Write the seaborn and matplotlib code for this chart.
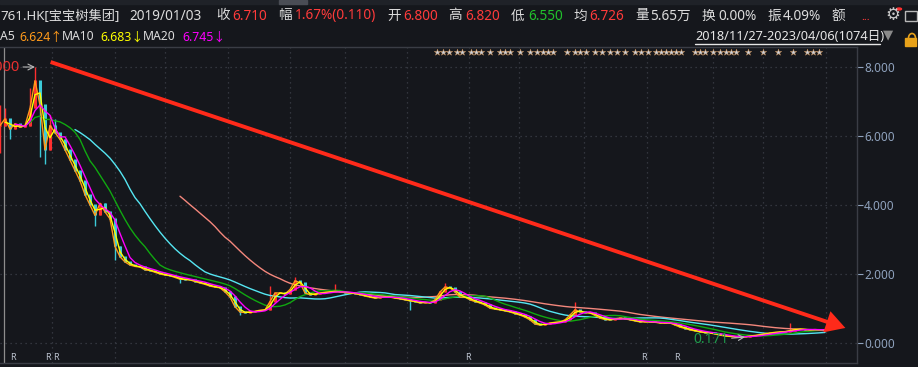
import numpy as np
import pandas as pd
import matplotlib
matplotlib.use("Agg")
import matplotlib.pyplot as plt
import matplotlib.patches as patches
import seaborn as sns

# 1761.HK closes, one point per ~6.5 trading days, 2018/11/27 - 2023/04/06
close = [6.3, 6.5, 6.2, 6.35, 6.25, 6.3, 6.8, 7.6, 6.9, 5.6,
         6.3, 6.1, 5.9, 5.6, 5.3, 5.0, 4.7, 4.3, 4.0, 3.7,
         4.05, 3.8, 3.6, 2.8, 2.5, 2.35, 2.26, 2.22, 2.2, 2.12,
         2.1, 2.05, 2.0, 1.97, 1.95, 1.9, 1.85, 1.84, 1.83, 1.78,
         1.74, 1.7, 1.65, 1.62, 1.6, 1.48, 1.33, 1.05, 0.9, 0.88,
         0.9, 0.92, 0.95, 0.96, 1.2, 1.45, 1.45, 1.42, 1.55, 1.8,
         1.75, 1.45, 1.4, 1.42, 1.45, 1.47, 1.48, 1.5, 1.48, 1.46,
         1.45, 1.43, 1.4, 1.36, 1.33, 1.3, 1.33, 1.34, 1.33, 1.3,
         1.28, 1.25, 1.22, 1.2, 1.16, 1.18, 1.16, 1.25, 1.48, 1.62,
         1.6, 1.48, 1.33, 1.33, 1.25, 1.2, 1.16, 1.1, 1.01, 0.98,
         0.96, 0.93, 0.9, 0.85, 0.81, 0.75, 0.67, 0.55, 0.52, 0.55,
         0.58, 0.6, 0.61, 0.67, 0.81, 0.96, 0.9, 0.88, 0.87, 0.8,
         0.72, 0.68, 0.67, 0.7, 0.72, 0.7, 0.67, 0.64, 0.61, 0.62,
         0.61, 0.6, 0.58, 0.58, 0.58, 0.52, 0.46, 0.42, 0.38, 0.35,
         0.32, 0.3, 0.29, 0.26, 0.23, 0.2, 0.19, 0.18, 0.18, 0.18,
         0.2, 0.22, 0.24, 0.27, 0.29, 0.31, 0.32, 0.33, 0.36, 0.4,
         0.4, 0.39, 0.38, 0.39, 0.38, 0.38]

# the big wicks that stick out
wick_idx = [0, 1, 2, 6, 7, 8, 9, 10, 11, 19, 23, 36, 48, 54, 59, 67, 82, 89, 115, 149, 158]
wick_hi = [6.9, 6.8, np.nan, 7.4, 8.0, 7.6, 6.5, 6.6, 6.5, np.nan, np.nan, np.nan, np.nan,
           1.65, 1.9, 1.7, np.nan, 1.75, 1.19, np.nan, 0.58]
wick_lo = [5.5, np.nan, 5.9, np.nan, 7.0, 5.4, 5.2, np.nan, np.nan, 3.4, 2.4, 1.75, 0.8,
           np.nan, np.nan, np.nan, 0.95, np.nan, np.nan, 0.171, np.nan]

ma_names = ['MA250', 'MA120', 'MA60', 'MA5', 'MA10', 'MA20']
ma_windows = [37, 19, 10, 1, 2, 4]
ma_minp = [37, 16, 6, 1, 2, 4]
ma_colors = ['#f4877c', '#55e6f2', '#10a810', '#ff9a1a', '#ffff00', '#ff00ff']

grid_x = [52, 115, 165, 228, 290, 345, 407, 469, 519, 584, 647, 713, 763, 826]   # date lines
star_x = [437, 443, 449, 457, 462, 471, 476, 481, 490, 500, 505, 510, 520,
          530, 537, 543, 548, 553, 567, 575, 580, 586, 595, 602, 610, 617, 625,
          635, 641, 648, 656, 661, 666, 671, 676, 681, 695, 700, 705, 713,
          720, 726, 731, 736, 748, 763, 778, 793, 807, 813, 819]
r_x = [13, 48, 56, 468, 644, 677]
cursor_x = 4
trend_start = (48, 8.17)
trend_end = (848, 0.41)

BG = '#15171c'
W, H = 918, 367
PX = 5.0   # pixels per data point

sns.set_style("dark", rc={"axes.facecolor": BG, "figure.facecolor": BG})
plt.rcParams['font.family'] = ['Noto Sans', 'Noto Sans CJK SC', 'DejaVu Sans']

df = pd.DataFrame({'close': close})
df['i'] = np.arange(len(df))
df['open'] = df['close'].shift(1).fillna(df['close'])
df['high'] = df[['open', 'close']].max(axis=1)
df['low'] = df[['open', 'close']].min(axis=1)
for k, hi, lo in zip(wick_idx, wick_hi, wick_lo):
    if not np.isnan(hi):
        df.loc[k, 'high'] = max(df.loc[k, 'high'], hi)
    if not np.isnan(lo):
        df.loc[k, 'low'] = min(df.loc[k, 'low'], lo)
for name, w, mp in zip(ma_names, ma_windows, ma_minp):
    df[name] = df['close'].rolling(w, min_periods=mp).mean()

fig = plt.figure(figsize=(W / 100, H / 100), dpi=100, facecolor=BG)
top, bot, right = 47, 363, 857
ax = fig.add_axes([0, 1 - bot / H, right / W, (bot - top) / H])
ax.set_facecolor(BG)
ax.set_xlim(0, right / PX)
ax.set_ylim(-0.58, 8.58)

# candles
up = df['close'] >= df['open']
cols = np.where(up, '#ff2f2f', '#3ccbd8')
ax.vlines(df['i'], df['low'], df['high'], colors=cols, linewidth=1.0, zorder=2)
ax.vlines(df['i'], df[['open', 'close']].min(axis=1), df[['open', 'close']].max(axis=1) + 0.02,
          colors=cols, linewidth=2.2, zorder=2)

for name, c in zip(ma_names, ma_colors):
    sns.lineplot(data=df, x='i', y=name, color=c, linewidth=1.0, ax=ax, legend=False, zorder=3)

ax.axvline(cursor_x / PX, color='#8d8d8d', linewidth=0.9, zorder=1)

# grid / axes
ax.set_xticks([g / PX for g in grid_x])
ax.set_yticks([0, 2, 4, 6, 8])
ax.grid(True, color='#3c4049', linestyle=(0, (1, 3)), linewidth=0.9)
ax.set_xlabel('')
ax.set_ylabel('')
ax.tick_params(axis='x', length=0, labelbottom=False)
ax.yaxis.tick_right()
ax.yaxis.set_major_formatter(matplotlib.ticker.FormatStrFormatter('%.3f'))
ax.tick_params(axis='y', colors='#8fa2bd', length=4, width=0.8, pad=1, labelsize=8.5)
for s in ['top', 'right', 'bottom']:
    ax.spines[s].set_color('#3a3d45')
    ax.spines[s].set_linewidth(1)
ax.spines['left'].set_visible(False)

# max / min markers
imax = df['high'].idxmax()
imin = df['low'].idxmin()
ax.annotate(f"{df['high'].max():.3f}", xy=(imax, df['high'].max()), xytext=(-11, 0),
            textcoords='offset points', ha='right', va='center', color='#e8302f', fontsize=10.5,
            arrowprops=dict(arrowstyle='->', color='#b8b8b8', lw=0.8, shrinkA=0, shrinkB=0))
ax.annotate(f"{df['low'].min():.3f}", xy=(imin, df['low'].min()), xytext=(-12, -2),
            textcoords='offset points', ha='right', va='center', color='#1f9d4c', fontsize=10,
            arrowprops=dict(arrowstyle='->', color='#b8b8b8', lw=0.8, shrinkA=0, shrinkB=0))

# trend arrow
ax.annotate('', xy=(trend_end[0] / PX, trend_end[1]), xytext=(trend_start[0] / PX, trend_start[1]),
            arrowprops=dict(arrowstyle='simple,head_width=1.6,head_length=1.4,tail_width=0.28',
                            color='#ff2a1a', lw=0), zorder=5, annotation_clip=False)

# event stars and R marks
xt = ax.get_xaxis_transform()
ax.scatter([s / PX for s in star_x], [1 - 5 / (bot - top)] * len(star_x), marker='*', s=24,
           color='#c9cfda', edgecolors='#c98a4a', linewidths=0.3, transform=xt, zorder=6)
for r in r_x:
    ax.text(r / PX, 5 / (bot - top), 'R', transform=xt, ha='center', va='center',
            fontsize=6.5, color='#b9c0cc')


# header
def ftext(x, y, s, color='#dcdcdc', size=9.8, **kw):
    fig.text(x / W, 1 - y / H, s, color=color, fontsize=size, va='center', ha='left', **kw)


fig.patches.append(patches.Rectangle((0, 1 - 4 / H), 1, 4 / H, transform=fig.transFigure,
                                     color='#1f2228', zorder=0))
fig.patches.append(patches.Rectangle((279 / W, 1 - 4 / H), 28 / W, 4 / H, transform=fig.transFigure,
                                     color='#4a4d55', zorder=1))

red, green, white = '#ff3b3b', '#21c12c', '#dcdcdc'
ftext(0, 16, '761.HK[宝宝树集团]', size=9.5)
ftext(129, 16, '2019/01/03')
ftext(216, 16, '收'); ftext(232, 16, '6.710', red)
ftext(278, 16, '幅'); ftext(295, 16, '1.67%(0.110)', red)
ftext(387, 16, '开'); ftext(403, 16, '6.800', red)
ftext(448, 16, '高'); ftext(465, 16, '6.820', red)
ftext(511, 16, '低'); ftext(528, 16, '6.550', green)
ftext(573, 16, '均'); ftext(589, 16, '6.726', red)
ftext(635, 16, '量'); ftext(650, 16, '5.65万')
ftext(702, 16, '换'); ftext(718, 16, '0.00%')
ftext(767, 16, '振'); ftext(783, 16, '4.09%')
ftext(831, 16, '额')
ftext(861, 17, '...', red, size=8)
ftext(885, 15, '⚙', '#c8c8c8', size=12, family='DejaVu Sans')
fig.patches.append(patches.Circle((899 / W, 1 - 9 / H), 2.5 / W, transform=fig.transFigure,
                                  color='#ff3030', zorder=3))
fig.patches.append(patches.Rectangle((905 / W, 1 - 21 / H), 12 / W, 10 / H, transform=fig.transFigure,
                                     fill=False, edgecolor='#b8b8b8', linewidth=1))

ftext(0, 37, 'A5', size=8.8)
ftext(19, 37, '6.624↑', '#ff9a1a', size=8.8)
ftext(62, 37, 'MA10', size=8.8)
ftext(100, 37, '6.683↓', '#ffff00', size=8.8)
ftext(143, 37, 'MA20', size=8.8)
ftext(182, 37, '6.745↓', '#ff00ff', size=8.8)

fig.text(695 / W, 1 - 36 / H, '2018/11/27-2023/04/06(1074日)', color='#e6e6e6', fontsize=9.2,
         va='center', ha='left')
fig.lines.append(plt.Line2D([695 / W, 880 / W], [1 - 44 / H, 1 - 44 / H], transform=fig.transFigure,
                            color='#e6e6e6', linewidth=1))
ftext(883, 35, '▼', '#8a8a8a', size=9.5, family='DejaVu Sans')
fig.patches.append(patches.Rectangle((905 / W, 1 - 46 / H), 11 / W, 8 / H, transform=fig.transFigure,
                                     color='#e8a21a'))
fig.patches.append(patches.Arc((912 / W, 1 - 38 / H), 7 / W, 9 / H, theta1=0, theta2=180,
                               transform=fig.transFigure, color='#e8a21a', linewidth=1.2))

fig.savefig('out.png', dpi=100, facecolor=BG)
